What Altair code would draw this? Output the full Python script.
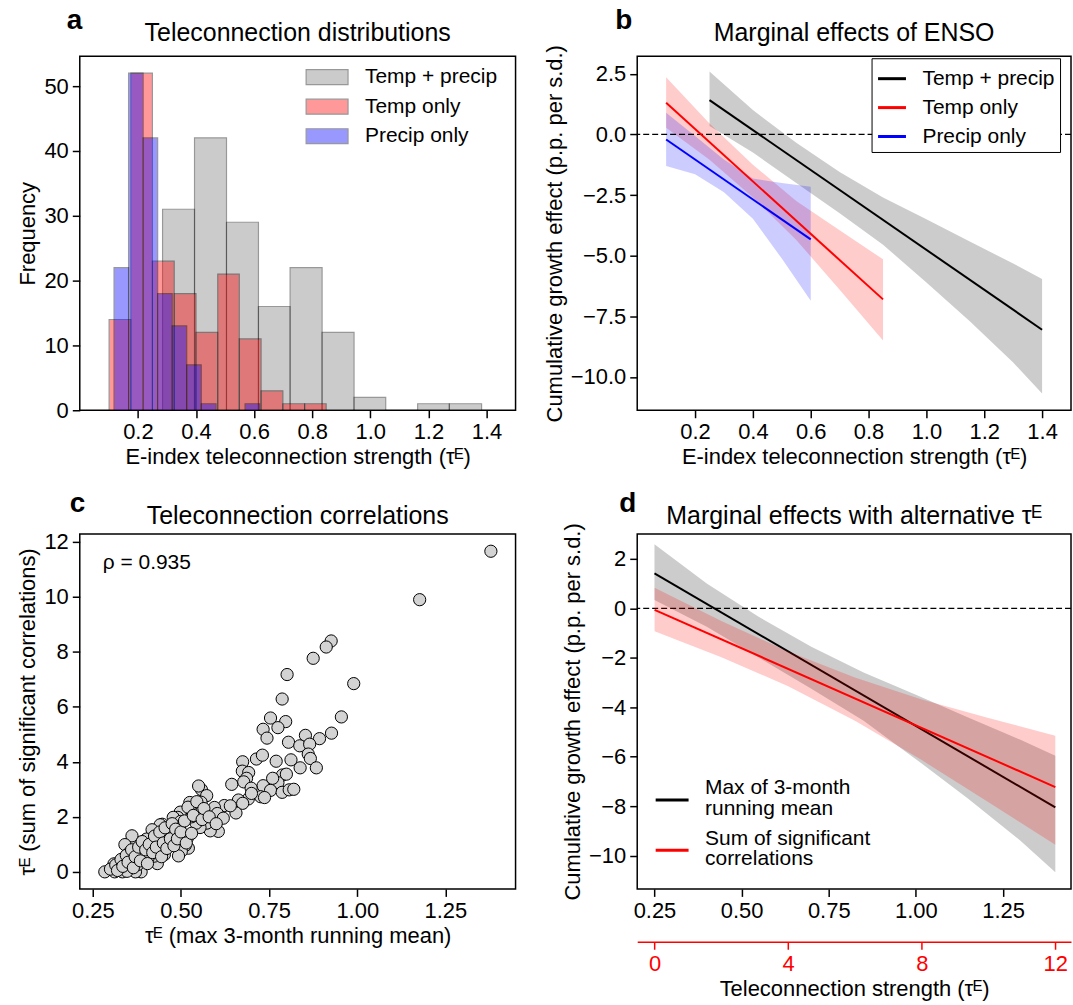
import altair as alt
import pandas as pd

FONT = "Liberation Sans"
FS = 21      # legend / annotation text
TFS = 22     # tick labels & axis titles
HFS = 25     # panel headings

# ---------------- panel a : histograms ----------------
hist_series = ["Temp + precip", "Temp only", "Precip only"]
gray_edges = [0.285, 0.395, 0.505, 0.615, 0.724, 0.834, 0.944, 1.053, 1.163, 1.272, 1.383]
gray_counts = [31, 42, 29, 16, 22, 12, 2, 0, 1, 1]
red_edges = [0.101, 0.176, 0.250, 0.325, 0.400, 0.475, 0.549, 0.624, 0.699, 0.774, 0.848]
red_counts = [14, 52, 23, 18, 12, 21, 11, 3, 1, 1]
blue_edges = [0.118, 0.168, 0.218, 0.268, 0.318, 0.368, 0.418, 0.469, 0.519, 0.569, 0.619]
blue_counts = [22, 52, 42, 18, 13, 7, 1, 0, 0, 1]

# ---------------- panel b : marginal effects ----------------
black_line_x = [0.25, 1.40]
black_line_y = [1.41, -8.05]
black_band_x = [0.25, 0.40, 0.55, 0.70, 0.85, 1.00, 1.15, 1.30, 1.40]
black_band_hi = [2.59, 1.00, -0.35, -1.55, -2.60, -3.50, -4.42, -5.32, -5.96]
black_band_lo = [0.34, -0.75, -2.00, -3.25, -4.55, -6.10, -7.70, -9.40, -10.68]

red_line_x = [0.10, 0.85]
red_line_y = [1.30, -6.80]
red_band_x = [0.10, 0.25, 0.40, 0.55, 0.70, 0.85]
red_band_hi = [2.35, 0.45, -1.25, -2.75, -3.95, -5.15]
red_band_lo = [0.27, -1.05, -2.60, -4.35, -6.40, -8.50]

blue_line_x = [0.10, 0.60]
blue_line_y = [-0.21, -4.33]
blue_band_x = [0.10, 0.20, 0.30, 0.40, 0.50, 0.60]
blue_band_hi = [0.89, -0.07, -1.04, -1.82, -2.00, -2.16]
blue_band_lo = [-1.30, -1.64, -2.39, -3.48, -5.12, -6.86]

# ---------------- panel c : scatter ----------------
scatter_x = [1.379, 1.177, 0.926, 0.912, 0.875, 0.801, 0.990, 0.787, 0.955, 0.754,
             0.797, 0.775, 0.733, 0.744, 0.927, 0.853, 0.893, 0.805, 0.837, 0.865,
             0.861, 0.867, 0.812, 0.838, 0.884, 0.770, 0.714, 0.731, 0.675, 0.674,
             0.692, 0.686, 0.678, 0.644, 0.788, 0.799, 0.775, 0.733, 0.699, 0.754,
             0.787, 0.807, 0.726, 0.737, 0.691, 0.663, 0.675, 0.656, 0.623, 0.595,
             0.603, 0.620, 0.606, 0.583, 0.573, 0.554, 0.543, 0.558, 0.550, 0.573,
             0.557, 0.525, 0.547, 0.556, 0.526, 0.530, 0.498, 0.491, 0.478, 0.499,
             0.496, 0.485, 0.505, 0.518, 0.521, 0.512, 0.501, 0.493, 0.474, 0.466,
             0.459, 0.447, 0.441, 0.452, 0.435, 0.418, 0.453, 0.433, 0.424, 0.407,
             0.402, 0.416, 0.428, 0.388, 0.395, 0.373, 0.361, 0.341, 0.353, 0.355,
             0.376, 0.380, 0.387, 0.371, 0.342, 0.326, 0.334, 0.310, 0.312, 0.284,
             0.347, 0.378,
             0.300, 0.315, 0.320, 0.330, 0.335, 0.345, 0.350, 0.360, 0.365, 0.370,
             0.380, 0.385, 0.390, 0.400, 0.405, 0.410, 0.420, 0.425, 0.430, 0.440,
             0.445, 0.450, 0.455, 0.460, 0.470, 0.475, 0.480, 0.485, 0.490, 0.500,
             0.510, 0.515, 0.520, 0.530, 0.535, 0.545, 0.560, 0.565, 0.580, 0.600,
             0.640, 0.700, 0.760, 0.820]
scatter_y = [11.65, 9.89, 8.39, 8.17, 7.76, 7.17, 6.84, 6.28, 5.63, 5.59,
             5.46, 5.24, 5.18, 4.86, 5.04, 4.96, 4.84, 4.71, 4.58, 4.64,
             4.28, 4.12, 4.07, 3.78, 3.78, 4.02, 4.10, 4.24, 4.00, 3.66,
             3.61, 3.40, 3.27, 3.18, 3.52, 3.55, 3.24, 3.13, 3.04, 2.96,
             2.89, 2.98, 2.73, 2.70, 2.65, 2.61, 2.49, 2.14, 2.41, 2.34,
             2.12, 1.95, 1.47, 1.49, 1.77, 1.61, 1.77, 2.99, 3.12, 2.77,
             2.53, 2.52, 2.31, 2.16, 2.25, 2.00, 2.17, 1.98, 1.98, 1.83,
             1.59, 1.41, 1.27, 1.23, 0.86, 0.96, 0.75, 0.58, 1.05, 1.35,
             1.19, 1.73, 1.71, 1.25, 1.25, 1.53, 0.63, 0.30, 0.57, 0.51,
             1.19, 0.99, 1.04, 0.69, 0.51, 1.07, 1.31, 0.99, 0.69, 0.63,
             0.33, 0.02, 0.00, 0.00, 0.36, 0.29, 0.00, 0.29, 0.00, 0.00,
             0.02, 0.27,
             0.10, 0.25, 0.05, 0.45, 0.20, 0.60, 0.35, 0.80, 0.15, 0.55,
             0.90, 0.40, 1.10, 0.80, 0.30, 1.00, 0.70, 1.30, 0.90, 1.45,
             0.55, 1.05, 1.60, 0.85, 1.20, 1.75, 0.95, 1.55, 1.20, 1.45,
             1.85, 1.05, 2.35, 1.40, 2.05, 2.55, 1.90, 2.30, 2.00, 1.75,
             2.40, 2.85, 3.40, 3.00]
rho_text = ["ρ = 0.935"]

# ---------------- panel d : alternative tau ----------------
d_series = ["Max of 3-month running mean", "Sum of significant correlations"]
d_red_line_s = [0, 12]
d_red_line_y = [-0.06, -7.23]
d_red_band_s = [0, 2, 4, 6, 8, 10, 12]
d_red_band_hi = [0.83, -0.51, -1.75, -2.80, -3.69, -4.44, -5.15]
d_red_band_lo = [-0.93, -1.98, -3.15, -4.55, -6.14, -7.84, -9.56]

titles = ["Teleconnection distributions", "Marginal effects of ENSO",
          "Teleconnection correlations", "Marginal effects with alternative τᴱ"]

W_L, W_R = 437, 435
H = 356
TAU_X = "E-index teleconnection strength (τᴱ)"
GROWTH = "Cumulative growth effect (p.p. per s.d.)"


def heading(letter_text, letter_dx, letter_dy, title_text, width, title_dy):
    lt = alt.Chart(pd.DataFrame({"t": [letter_text]})).mark_text(
        align="left", baseline="alphabetic", fontSize=28, fontWeight="bold", font=FONT
    ).encode(text="t:N", x=alt.value(letter_dx), y=alt.value(letter_dy))
    tt = alt.Chart(pd.DataFrame({"t": [title_text]})).mark_text(
        align="center", baseline="alphabetic", fontSize=HFS, font=FONT
    ).encode(text="t:N", x=alt.value(width / 2), y=alt.value(title_dy))
    return [lt, tt]


def zero_rule():
    return alt.Chart(pd.DataFrame({"z": [0]})).mark_rule(
        color="black", strokeDash=[6, 3], strokeWidth=1.2).encode(y="z:Q")


# ---- build panel a ----
rows = []
for name, edges, counts in zip(hist_series, [gray_edges, red_edges, blue_edges],
                               [gray_counts, red_counts, blue_counts]):
    for i, c in enumerate(counts):
        if c > 0:
            rows.append({"series": name, "x0": edges[i], "x1": edges[i + 1], "count": c, "base": 0})
hist_df = pd.DataFrame(rows)

# legend patch: a 42 x 15 px rectangle drawn from a small nominal symbol size
rect_sym = "M -1.75 -0.625 L 1.75 -0.625 L 1.75 0.625 L -1.75 0.625 Z"
hist = alt.Chart(hist_df).mark_rect(opacity=0.4, stroke="black", strokeWidth=1.2).encode(
    x=alt.X("x0:Q", scale=alt.Scale(domain=[0, 1.5], nice=False, zero=False),
            axis=alt.Axis(values=[0.2, 0.4, 0.6, 0.8, 1.0, 1.2, 1.4], format=".1f", title=TAU_X)),
    x2="x1:Q",
    y=alt.Y("count:Q", scale=alt.Scale(domain=[0, 54.6], nice=False),
            axis=alt.Axis(values=[0, 10, 20, 30, 40, 50], title="Frequency")),
    y2="base:Q",
    fill=alt.Fill("series:N", scale=alt.Scale(domain=hist_series, range=["gray", "red", "blue"]),
                  legend=alt.Legend(orient="none", legendX=235, legendY=8, title=None,
                                    symbolType=rect_sym, symbolSize=576, symbolOpacity=0.4,
                                    symbolStrokeColor="black", symbolStrokeWidth=1.2,
                                    labelFontSize=FS, labelFont=FONT, labelOffset=25,
                                    rowPadding=6.6, padding=0)),
)
panel_a = alt.layer(hist, *heading("a", -13, -27, titles[0], W_L, -15)).properties(
    width=W_L, height=H - 1)

# ---- build panel b ----
bx = alt.Scale(domain=[0, 1.5], nice=False, zero=False)
by = alt.Scale(domain=[-11.37, 3.22], nice=False, zero=False)
bx_ax = alt.Axis(values=[0.2, 0.4, 0.6, 0.8, 1.0, 1.2, 1.4], format=".1f", title=TAU_X)
by_ax = alt.Axis(values=[2.5, 0, -2.5, -5, -7.5, -10], format=".1f", title=GROWTH)


def band(xs, hi, lo, color, xscale, yscale, xaxis, yaxis):
    df = pd.DataFrame({"x": xs, "hi": hi, "lo": lo})
    return alt.Chart(df).mark_area(color=color, opacity=0.2).encode(
        x=alt.X("x:Q", scale=xscale, axis=xaxis),
        y=alt.Y("hi:Q", scale=yscale, axis=yaxis),
        y2="lo:Q")


line_rows = []
for name, xs, ys in zip(hist_series, [black_line_x, red_line_x, blue_line_x],
                        [black_line_y, red_line_y, blue_line_y]):
    for xv, yv in zip(xs, ys):
        line_rows.append({"series": name, "x": xv, "y": yv})
lines_b = alt.Chart(pd.DataFrame(line_rows)).mark_line(strokeWidth=2).encode(
    x=alt.X("x:Q", scale=bx, axis=bx_ax),
    y=alt.Y("y:Q", scale=by, axis=by_ax),
    color=alt.Color("series:N", scale=alt.Scale(domain=hist_series, range=["black", "red", "blue"]),
                    legend=alt.Legend(orient="none", legendX=235, legendY=2, title=None,
                                      symbolType="stroke", symbolSize=784, symbolStrokeWidth=3,
                                      labelFontSize=FS, labelFont=FONT, labelOffset=15,
                                      rowPadding=3, padding=5, strokeColor="black",
                                      fillColor="white", cornerRadius=0)),
)
panel_b = alt.layer(
    band(black_band_x, black_band_hi, black_band_lo, "black", bx, by, bx_ax, by_ax),
    band(red_band_x, red_band_hi, red_band_lo, "red", bx, by, bx_ax, by_ax),
    band(blue_band_x, blue_band_hi, blue_band_lo, "blue", bx, by, bx_ax, by_ax),
    zero_rule(),
    lines_b,
    *heading("b", -22, -27, titles[1], W_R, -15),
).properties(width=W_R, height=H - 1)

# ---- build panel c ----
sc_df = pd.DataFrame({"x": scatter_x, "y": scatter_y})
scatter = alt.Chart(sc_df).mark_point(filled=True, fill="#d3d3d3", stroke="black", strokeWidth=1,
                                      size=150, opacity=1, shape="circle").encode(
    x=alt.X("x:Q", scale=alt.Scale(domain=[0.213, 1.449], nice=False, zero=False),
            axis=alt.Axis(values=[0.25, 0.5, 0.75, 1.0, 1.25], format=".2f",
                          title="τᴱ (max 3-month running mean)")),
    y=alt.Y("y:Q", scale=alt.Scale(domain=[-0.62, 12.28], nice=False, zero=False),
            axis=alt.Axis(values=[0, 2, 4, 6, 8, 10, 12], title="τᴱ (sum of significant correlations)")),
)
rho = alt.Chart(pd.DataFrame({"t": rho_text})).mark_text(
    align="left", baseline="middle", fontSize=FS, font=FONT).encode(
    text="t:N", x=alt.value(23), y=alt.value(29))
panel_c = alt.layer(scatter, rho, *heading("c", -10, -22, titles[2], W_L, -10)).properties(
    width=W_L, height=H)

# ---- build panel d ----
dx = alt.Scale(domain=[0.2005, 1.445], nice=False, zero=False)
ds = alt.Scale(domain=[-0.52, 12.47], nice=False, zero=False)
dy = alt.Scale(domain=[-11.35, 3.01], nice=False, zero=False)
dx_ax = alt.Axis(values=[0.25, 0.5, 0.75, 1.0, 1.25], format=".2f", title=None, orient="bottom")
ds_ax = alt.Axis(values=[0, 4, 8, 12], format="d", title="Teleconnection strength (τᴱ)",
                 orient="bottom", offset=53, domain=True, domainColor="red", domainWidth=1.5,
                 tickColor="red", labelColor="red", titleColor="black")
dy_ax = alt.Axis(values=[2, 0, -2, -4, -6, -8, -10], format="d", title=GROWTH)
d_color = alt.Color("series:N", scale=alt.Scale(domain=d_series, range=["black", "red"]),
                    legend=alt.Legend(orient="none", legendX=17, legendY=237, title=None,
                                      symbolType="M -1 0.71 L 1 0.71", symbolSize=1089,
                                      symbolStrokeWidth=3, symbolFillColor="transparent",
                                      labelFontSize=FS, labelFont=FONT, labelOffset=15,
                                      labelLimit=400, rowPadding=1.5, padding=0,
                                      labelExpr="datum.label == 'Max of 3-month running mean' ? ['Max of 3-month', 'running mean'] : ['Sum of significant', 'correlations']"))

d_black_line = alt.Chart(pd.DataFrame({"x": black_line_x, "y": black_line_y,
                                       "series": [d_series[0]] * 2})).mark_line(strokeWidth=2).encode(
    x=alt.X("x:Q", scale=dx, axis=dx_ax), y=alt.Y("y:Q", scale=dy, axis=dy_ax), color=d_color)
d_red_line = alt.Chart(pd.DataFrame({"x": d_red_line_s, "y": d_red_line_y,
                                     "series": [d_series[1]] * 2})).mark_line(strokeWidth=2).encode(
    x=alt.X("x:Q", scale=ds, axis=ds_ax), y=alt.Y("y:Q", scale=dy, axis=dy_ax), color=d_color)

black_part = alt.layer(
    band(black_band_x, black_band_hi, black_band_lo, "black", dx, dy, dx_ax, dy_ax),
    zero_rule(),
    d_black_line,
)
red_part = alt.layer(
    band(d_red_band_s, d_red_band_hi, d_red_band_lo, "red", ds, dy, ds_ax, dy_ax),
    d_red_line,
)
panel_d = alt.layer(black_part, red_part, *heading("d", -18, -22, titles[3], W_R, -10)).resolve_scale(
    x="independent").properties(width=W_R, height=H)

chart = alt.concat(panel_a, panel_b, panel_c, panel_d, columns=2,
                   spacing={"row": 124, "column": 122}, bounds="flush").resolve_scale(
    color="independent", fill="independent"
).resolve_legend(color="independent", fill="independent").properties(
    padding={"left": 16, "top": 5, "right": 0, "bottom": 0}
).configure(
    style={"guide-label": {"lineHeight": 21}}
).configure_view(stroke="black", strokeWidth=1.5).configure_axis(
    labelFont=FONT, titleFont=FONT, labelFontSize=TFS, titleFontSize=TFS, titleFontWeight="normal",
    tickSize=7.5, tickWidth=1.5, tickColor="black", labelColor="black", titleColor="black",
    domain=False, grid=False, labelPadding=4
).configure_legend(labelFont=FONT).configure_text(font=FONT)

chart.save("out.html", embed_options={"renderer": "svg", "actions": False})
